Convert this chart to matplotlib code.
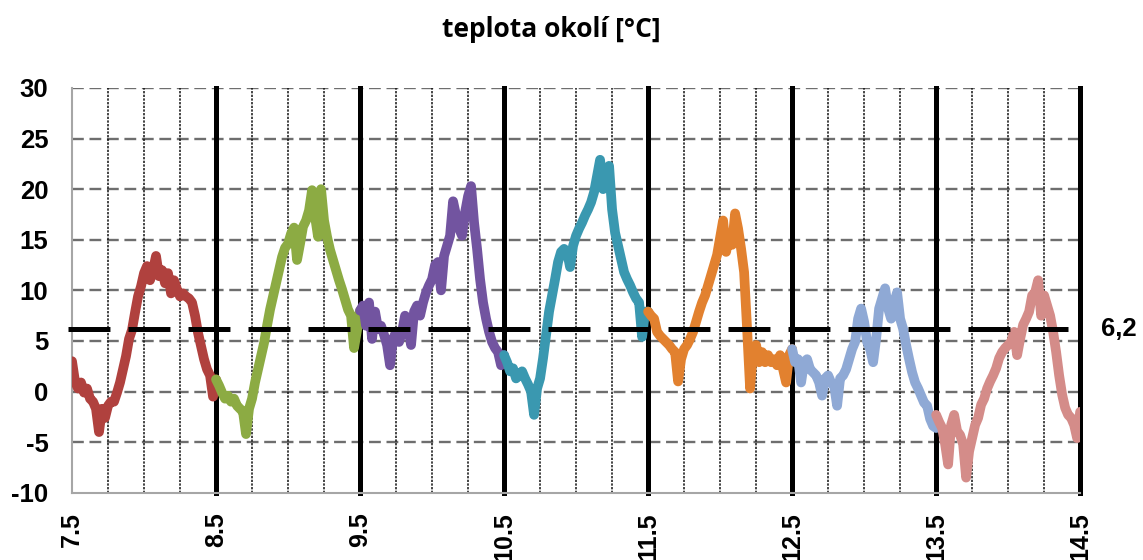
import numpy as np
import matplotlib
matplotlib.use("Agg")
import matplotlib.pyplot as plt

plt.rcParams["axes.unicode_minus"] = False

# Ambient temperature, sampled every half hour (48 samples per day),
# one array per day starting at noon (x.5)
samples_per_day = 48
day_starts = [7.5, 8.5, 9.5, 10.5, 11.5, 12.5, 13.5]

day1 = [3.0, 1.0, 0.3, 0.9, -0.1, 0.3, -0.7, -1.0, -1.7, -4.0, -1.7, -2.6, -1.4, -1.0, -1.0, -0.1,
        0.9, 2.2, 3.5, 5.2, 6.1, 7.8, 9.4, 10.4, 11.7, 12.4, 11.0, 12.0, 13.4, 11.4, 12.0, 10.7,
        11.7, 9.7, 11.0, 10.1, 9.4, 9.7, 9.4, 9.2, 8.8, 7.5, 5.8, 4.5, 3.2, 2.2, 1.6, -0.5, 1.2]
day2 = [1.2, 0.6, -0.1, -0.7, -0.4, -1.0, -0.7, -1.4, -1.7, -2.0, -4.2, -1.7, -0.7, 0.9, 2.2, 3.5,
        4.8, 6.5, 8.1, 9.4, 10.7, 12.0, 13.3, 14.2, 14.6, 15.6, 16.2, 13.0, 14.6, 16.3, 16.9, 17.9,
        19.9, 17.3, 15.3, 20.0, 16.9, 15.3, 14.0, 13.0, 12.0, 11.0, 10.1, 9.1, 8.1, 7.5, 4.3, 6.1, 8.0]
day3 = [8.0, 8.5, 6.5, 8.8, 5.2, 7.9, 6.2, 6.5, 5.6, 4.6, 2.6, 5.2, 5.9, 4.9, 5.9, 7.5,
        6.5, 4.6, 7.9, 8.5, 7.5, 8.8, 9.8, 10.5, 11.1, 12.5, 12.8, 10.0, 13.4, 14.4, 15.4, 18.8,
        17.4, 16.1, 15.4, 17.7, 19.3, 20.3, 16.7, 14.1, 11.1, 8.8, 7.2, 5.9, 4.9, 4.3, 3.9, 2.6, 3.6]
day4 = [3.6, 2.9, 2.0, 2.3, 1.3, 1.6, 2.0, 1.3, 0.7, 0.0, -2.3, 0.3, 1.3, 3.3, 5.6, 7.9,
        9.5, 11.1, 12.8, 13.8, 14.1, 13.8, 12.3, 14.4, 15.4, 16.1, 16.7, 17.4, 18.0, 18.7, 19.7, 21.3,
        22.9, 20.0, 21.0, 22.3, 18.0, 15.7, 14.4, 13.1, 11.8, 11.1, 10.5, 9.8, 9.2, 8.8, 5.4, 7.9, 7.9]
day5 = [7.9, 7.5, 7.2, 5.9, 5.5, 5.2, 4.9, 4.6, 4.2, 3.9, 1.0, 3.2, 4.2, 4.6, 5.2, 5.9,
        6.9, 7.9, 8.8, 9.5, 10.5, 11.5, 12.5, 13.5, 15.2, 16.9, 13.8, 15.4, 14.5, 17.6, 16.1, 14.1,
        11.8, 6.2, 0.3, 4.2, 4.6, 2.9, 3.9, 2.9, 3.6, 2.9, 3.2, 2.6, 3.6, 2.2, 0.9, 3.6, 4.2]
day6 = [4.2, 2.9, 3.2, 0.9, 2.9, 3.2, 2.2, 1.9, 1.6, 0.9, -0.4, 1.3, 1.6, 0.9, 0.6, -1.4,
        1.3, 1.6, 2.2, 3.2, 4.2, 4.9, 7.2, 8.2, 6.9, 4.9, 4.2, 2.9, 5.2, 8.2, 9.2, 10.2,
        8.2, 7.2, 8.8, 9.8, 7.2, 6.2, 4.6, 3.2, 1.9, 0.9, 0.3, -0.4, -1.1, -1.4, -2.7, -3.4, -3.6]
day7 = [-2.3, -3.0, -3.6, -5.2, -7.2, -3.3, -2.3, -3.9, -4.3, -5.2, -8.5, -5.9, -4.6, -3.3, -2.6, -1.3,
        -0.7, 0.3, 1.0, 1.6, 2.3, 3.3, 3.9, 4.3, 4.6, 4.9, 5.9, 3.6, 5.2, 6.6, 7.2, 7.9,
        9.5, 9.8, 11.0, 7.5, 9.5, 8.5, 7.5, 5.9, 3.9, 1.6, -0.3, -1.6, -2.3, -2.6, -3.3, -4.6, -2.0]

days = [day1, day2, day3, day4, day5, day6, day7]
day_colors = ["#B0413E", "#8CAB43", "#7254A0", "#3A98B0", "#E2812F", "#8FA9D5", "#D48C89"]

mean_temp = 6.2
mean_label = "6,2"

x_ticks = [7.5, 8.5, 9.5, 10.5, 11.5, 12.5, 13.5, 14.5]
x_ticklabels = ["7.5", "8.5", "9.5", "10.5", "11.5", "12.5", "13.5", "14.5"]
y_ticks = [-10, -5, 0, 5, 10, 15, 20, 25, 30]
y_ticklabels = ["-10", "-5", "0", "5", "10", "15", "20", "25", "30"]
title = "teplota okolí [°C]"

fig = plt.figure(figsize=(11.43, 5.6), dpi=100)
ax = fig.add_axes([0.063, 0.12, 0.882, 0.723])
ax.set_xlim(7.5, 14.5)
ax.set_ylim(-10, 30)

# horizontal dashed grey grid
for y in y_ticks[1:]:
    ax.axhline(y, color="#6e6e6e", lw=1.7, dashes=(5.0, 2.4), zorder=1)

# dotted quarter-day grid
for k in range(1, 28):
    x = 7.5 + k * 0.25
    if k % 4:
        ax.axvline(x, color="#111111", lw=1.1, dashes=(1.5, 0.9), zorder=1)

# solid black day separators
for x in x_ticks[1:]:
    ax.axvline(x, color="black", lw=3.6, zorder=2, clip_on=False)

for start, vals, col in zip(day_starts, days, day_colors):
    t = start + np.arange(len(vals)) / samples_per_day
    ax.plot(t, vals, color=col, lw=7.0, solid_joinstyle="round",
            solid_capstyle="round", zorder=3)

# mean temperature line
ax.plot([7.472, 14.417], [mean_temp, mean_temp], color="black", lw=3.6,
        dashes=(30.2 / 3.6, 13.0 / 3.6), dash_capstyle="butt", zorder=4, clip_on=False)
ax.text(14.645, mean_temp, mean_label, fontsize=18.5, fontweight="bold",
        family="Liberation Sans", ha="left", va="center")

for side in ("top", "right"):
    ax.spines[side].set_visible(False)
for side in ("left", "bottom"):
    ax.spines[side].set_color("#a6a6a6")
    ax.spines[side].set_linewidth(1.5)

ax.set_xticks(x_ticks)
ax.set_xticklabels(x_ticklabels, rotation=90, fontsize=18, fontweight="bold",
                   family="Liberation Sans")
ax.set_yticks(y_ticks)
ax.set_yticklabels(y_ticklabels, fontsize=18.5, fontweight="bold", family="Liberation Sans")
ax.tick_params(axis="x", length=0, pad=14)
ax.tick_params(axis="y", length=0, pad=17)

fig.text(0.482, 0.948, title, fontsize=19, fontweight="bold", family="Open Sans",
         ha="center", va="center")

fig.savefig("out.png", dpi=100)
